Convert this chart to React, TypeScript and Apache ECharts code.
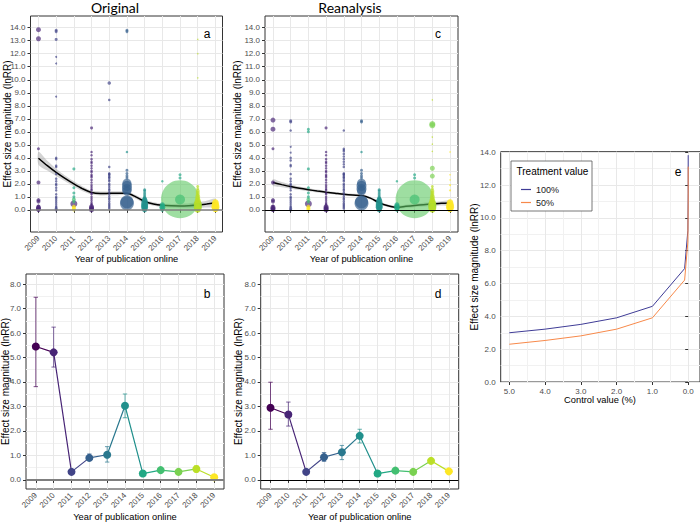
import React, { useEffect, useRef } from 'react';
import * as echarts from 'echarts';

const FONT = "'Liberation Sans', Arial, Helvetica, sans-serif";
const GRID = '#E8E8E8';
const GRID_MINOR = '#F1F1F1';

const years = [2009, 2010, 2011, 2012, 2013, 2014, 2015, 2016, 2017, 2018, 2019];
const effectTicksTop = [0, 1, 2, 3, 4, 5, 6, 7, 8, 9, 10, 11, 12, 13, 14];
const effectTicksBottom = [0, 1, 2, 3, 4, 5, 6, 7, 8];
const effectMinorBottom = [0.5, 1.5, 2.5, 3.5, 4.5, 5.5, 6.5, 7.5];
const controlTicks = [0, 1, 2, 3, 4, 5];
const controlMinor = [0.5, 1.5, 2.5, 3.5, 4.5];
const effectTicksE = [0, 2, 4, 6, 8, 10, 12, 14];
const effectMinorE = [1, 3, 5, 7, 9, 11, 13];

const viridis = ['#440154', '#482576', '#414487', '#35608D', '#2A788E', '#21908C', '#22A884', '#43BF71', '#7AD151', '#BBDF27', '#FDE725', '#5DC863'];

// smoothed trend (loess) with confidence band, panels a and c
const fitYears = [2009, 2009.5, 2010, 2010.5, 2011, 2011.5, 2012, 2012.5, 2013, 2013.5, 2014, 2014.5, 2015, 2015.5, 2016, 2016.5, 2017, 2017.5, 2018, 2018.5, 2019];
const origFit = [3.97, 3.4, 2.88, 2.42, 2.0, 1.62, 1.33, 1.26, 1.27, 1.28, 1.27, 1.0, 0.64, 0.45, 0.35, 0.31, 0.3, 0.32, 0.37, 0.45, 0.54];
const origFitLo = [3.47, 3.02, 2.6, 2.2, 1.8, 1.44, 1.18, 1.11, 1.12, 1.13, 1.12, 0.86, 0.5, 0.31, 0.21, 0.16, 0.13, 0.13, 0.15, 0.19, 0.22];
const origFitHi = [4.47, 3.78, 3.16, 2.64, 2.2, 1.8, 1.48, 1.41, 1.42, 1.43, 1.42, 1.14, 0.78, 0.59, 0.49, 0.46, 0.47, 0.51, 0.59, 0.71, 0.86];
const reanFit = [2.1, 1.94, 1.79, 1.66, 1.55, 1.45, 1.36, 1.28, 1.2, 1.14, 1.1, 0.9, 0.55, 0.32, 0.2, 0.27, 0.34, 0.4, 0.45, 0.5, 0.53];
const reanFitLo = [1.85, 1.74, 1.63, 1.53, 1.43, 1.34, 1.26, 1.18, 1.1, 1.04, 1.0, 0.8, 0.45, 0.22, 0.08, 0.15, 0.21, 0.26, 0.3, 0.33, 0.33];
const reanFitHi = [2.35, 2.14, 1.95, 1.79, 1.67, 1.56, 1.46, 1.38, 1.3, 1.24, 1.2, 1.0, 0.65, 0.42, 0.32, 0.39, 0.47, 0.54, 0.6, 0.67, 0.73];

// individual effect sizes: [year, lnRR, weight (symbol size), colour group]
const sharedPoints: [number, number, number, number][] = [
  [2009, 4.7, 3, 1], [2009, 2.1, 4, 1], [2009, 0.75, 4, 1], [2009, 0.65, 4, 1], [2009, 0.3, 3, 1], [2009, 0.2, 5, 1], [2009, 0.12, 5, 1], [2009, 0.05, 5, 1], [2009, 0.0, 4, 1],
  [2010, 2.2, 2.5, 2], [2010, 2.0, 2.5, 2], [2010, 1.9, 2.5, 2], [2010, 1.7, 2.5, 2], [2010, 1.5, 2.5, 2], [2010, 1.2, 2.5, 2], [2010, 1.0, 2.5, 2], [2010, 0.9, 2.5, 2], [2010, 0.75, 2.5, 2], [2010, 0.6, 2.5, 2], [2010, 0.45, 2.5, 2], [2010, 0.3, 2.5, 2], [2010, 0.2, 2.5, 2], [2010, 0.1, 3, 2], [2010, 0.0, 3, 2],
  [2011, 3.15, 3, 6], [2011, 1.7, 3, 6], [2011, 1.3, 3, 6], [2011, 1.0, 3, 6], [2011, 0.8, 4, 7], [2011, 0.6, 3, 7], [2011, 0.47, 7, 1], [2011, 0.25, 4, 10], [2011, 0.12, 4, 10], [2011, 0.03, 4, 10],
  [2012, 6.3, 3, 1], [2012, 4.45, 2.5, 1], [2012, 4.2, 2.5, 1], [2012, 3.9, 2.5, 1], [2012, 3.7, 2.5, 1], [2012, 3.6, 2.5, 1], [2012, 3.4, 2.5, 1], [2012, 3.2, 2.5, 1], [2012, 3.0, 2.5, 1], [2012, 2.9, 2.5, 1], [2012, 2.7, 2.5, 1], [2012, 2.6, 2.5, 1], [2012, 2.5, 2.5, 1], [2012, 2.3, 2.5, 1], [2012, 2.1, 2.5, 1], [2012, 1.9, 2.5, 1], [2012, 1.75, 2.5, 1], [2012, 1.6, 2.5, 1], [2012, 1.5, 2.5, 1], [2012, 1.3, 2.5, 1], [2012, 1.2, 2.5, 1], [2012, 1.0, 2.5, 1], [2012, 0.85, 2.5, 1], [2012, 0.7, 2.5, 1], [2012, 0.55, 2.5, 1], [2012, 0.45, 2.5, 1], [2012, 0.35, 2.5, 1], [2012, 0.25, 5, 1], [2012, 0.15, 5, 1], [2012, 0.08, 5, 1], [2012, 0.0, 5, 1],
  [2013, 3.3, 2.5, 2], [2013, 2.8, 2.5, 2], [2013, 2.75, 2.5, 2], [2013, 2.7, 2.5, 2], [2013, 2.6, 2.5, 2], [2013, 2.5, 2.5, 2], [2013, 2.45, 2.5, 2], [2013, 2.3, 2.5, 2], [2013, 2.2, 2.5, 2], [2013, 2.0, 2.5, 2], [2013, 1.9, 2.5, 2], [2013, 1.75, 2.5, 2], [2013, 1.6, 2.5, 2], [2013, 1.5, 2.5, 2], [2013, 1.35, 2.5, 2], [2013, 1.2, 2.5, 2], [2013, 1.05, 2.5, 2], [2013, 0.9, 2.5, 2], [2013, 0.8, 2.5, 2], [2013, 0.65, 2.5, 2], [2013, 0.5, 2.5, 2], [2013, 0.4, 2.5, 2], [2013, 0.3, 2.5, 2], [2013, 0.2, 2.5, 2], [2013, 0.1, 2.5, 2],
  [2014, 4.45, 2.5, 5], [2014, 3.05, 3, 3], [2014, 2.8, 3, 3], [2014, 2.6, 3, 3], [2014, 2.45, 3, 3], [2014, 2.05, 9, 3], [2014, 1.85, 10, 3], [2014, 1.6, 10, 3], [2014, 1.45, 9, 3], [2014, 0.62, 13, 3], [2014, 0.5, 14, 3],
  [2015, 1.55, 3, 5], [2015, 1.45, 3, 5], [2015, 1.3, 3, 5], [2015, 1.15, 3, 5], [2015, 1.0, 3, 5], [2015, 0.9, 4, 5], [2015, 0.8, 5, 5], [2015, 0.7, 6, 5], [2015, 0.55, 7, 5], [2015, 0.4, 7, 5], [2015, 0.3, 7, 5], [2015, 0.2, 7, 5], [2015, 0.1, 6, 5], [2015, 0.0, 5, 5],
  [2016, 2.2, 2.5, 6], [2016, 0.4, 5, 6], [2016, 0.3, 5, 6], [2016, 0.2, 6, 6], [2016, 0.1, 5, 6], [2016, 0.0, 4, 6],
  [2017, 2.7, 3, 6], [2017, 2.45, 3, 6], [2017, 0.82, 38, 11], [2017, 0.8, 10, 7],
  [2018, 1.8, 3, 9], [2018, 1.6, 3, 9], [2018, 1.45, 4, 9], [2018, 1.3, 4, 9], [2018, 1.15, 4, 9], [2018, 1.0, 5, 9], [2018, 0.85, 5, 9], [2018, 0.7, 6, 9], [2018, 0.55, 7, 9], [2018, 0.45, 8, 8], [2018, 0.4, 8, 9], [2018, 0.3, 8, 9], [2018, 0.25, 8, 8], [2018, 0.15, 8, 9], [2018, 0.05, 7, 9],
  [2019, 0.6, 6, 10], [2019, 0.5, 7, 10], [2019, 0.4, 7, 10], [2019, 0.3, 8, 10], [2019, 0.2, 8, 10], [2019, 0.1, 7, 10], [2019, 0.05, 6, 10],
];
const origOnlyPoints: [number, number, number, number][] = [
  [2009, 13.85, 5, 1], [2009, 13.15, 5, 1],
  [2010, 13.8, 3, 2], [2010, 13.7, 3, 2], [2010, 13.1, 3, 2], [2010, 11.75, 2, 2], [2010, 11.25, 2, 2], [2010, 8.7, 2, 2], [2010, 4.0, 2.5, 2], [2010, 3.9, 2.5, 2], [2010, 3.4, 2.5, 2], [2010, 3.3, 2.5, 2], [2010, 2.75, 2.5, 2], [2010, 2.4, 2.5, 2],
  [2013, 9.75, 3.5, 2], [2013, 8.45, 2.5, 2],
  [2014, 13.8, 3, 3], [2014, 13.7, 3, 3],
  [2018, 13.1, 1.5, 9], [2018, 12.0, 1.5, 9], [2018, 10.15, 1.5, 9],
];
const reanOnlyPoints: [number, number, number, number][] = [
  [2009, 6.9, 5, 1], [2009, 6.2, 5, 1],
  [2010, 6.85, 3, 2], [2010, 6.75, 3, 2], [2010, 6.1, 2.5, 2], [2010, 4.85, 2, 2], [2010, 4.4, 2, 2], [2010, 4.0, 2.5, 2], [2010, 3.8, 2.5, 2], [2010, 3.45, 2.5, 2], [2010, 3.35, 2.5, 2], [2010, 2.75, 2.5, 2], [2010, 2.4, 2.5, 2],
  [2011, 6.2, 3, 6], [2011, 6.0, 3, 6],
  [2013, 6.1, 2.5, 2], [2013, 4.7, 2.5, 2], [2013, 4.6, 2.5, 2], [2013, 4.5, 2.5, 2], [2013, 4.3, 2.5, 2], [2013, 4.1, 2.5, 2], [2013, 3.9, 2.5, 2], [2013, 3.7, 2.5, 2], [2013, 3.5, 2.5, 2],
  [2014, 6.85, 3, 3], [2014, 6.75, 3, 3],
  [2018, 8.45, 1.5, 9], [2018, 6.6, 6, 8], [2018, 6.5, 6, 8], [2018, 5.6, 1.5, 9], [2018, 5.05, 1.5, 9], [2018, 4.5, 1.5, 9], [2018, 3.2, 5, 8], [2018, 2.6, 5, 8],
  [2019, 4.45, 1.5, 10], [2019, 2.7, 1.5, 10], [2019, 2.3, 1.5, 10], [2019, 1.9, 2, 10], [2019, 1.5, 2, 10],
];

// yearly means with confidence intervals, panels b and d
const origMean = [5.45, 5.21, 0.33, 0.9, 1.03, 3.03, 0.26, 0.4, 0.33, 0.45, 0.11];
const origLo = [3.81, 4.61, null, 0.79, 0.73, 2.54, null, null, null, 0.33, null];
const origHi = [7.46, 6.24, null, 1.06, 1.36, 3.51, null, null, null, 0.58, null];
const reanMean = [2.95, 2.67, 0.33, 0.93, 1.13, 1.8, 0.26, 0.38, 0.33, 0.78, 0.35];
const reanLo = [2.07, 2.2, null, 0.76, 0.83, 1.51, null, null, null, null, null];
const reanHi = [3.99, 3.18, null, 1.12, 1.41, 2.07, null, null, null, null, null];

// panel e: effect size against control value
const controlValue = [5, 4, 3, 2, 1, 0.1, 0.01, 0.001, 0.0001];
const treat100 = [3.0, 3.22, 3.51, 3.91, 4.61, 6.91, 9.21, 11.51, 13.82];
const treat50 = [2.3, 2.53, 2.81, 3.22, 3.91, 6.21, 8.52, 10.82, 13.12];

function rgba(hex: string, a: number) {
  const n = parseInt(hex.slice(1), 16);
  return `rgba(${(n >> 16) & 255},${(n >> 8) & 255},${n & 255},${a})`;
}

const tickStyle = { show: true, length: 3, lineStyle: { color: '#333333', width: 1 } };
const labelStyle = { fontSize: 8, color: '#4D4D4D', fontFamily: FONT };

function yearXAxis(gridIndex: number, min: number, max: number) {
  return {
    type: 'value', gridIndex, min, max,
    axisLine: { show: false },
    axisTick: { ...tickStyle, customValues: years },
    axisLabel: { ...labelStyle, customValues: years, rotate: 45, margin: 5, formatter: (v: number) => String(Math.round(v)) },
    splitLine: { show: true, lineStyle: { color: GRID, width: 1 } },
  };
}
function valueAxis(gridIndex: number, min: number, max: number, ticks: number[], inverse = false) {
  return {
    type: 'value', gridIndex, min, max, inverse,
    axisLine: { show: false },
    axisTick: { ...tickStyle, customValues: ticks },
    axisLabel: { ...labelStyle, customValues: ticks, margin: 5, formatter: (v: number) => v.toFixed(1) },
    splitLine: { show: true, lineStyle: { color: GRID, width: 1 } },
  };
}
function minorAxis(gridIndex: number, min: number, max: number, ticks: number[], inverse = false) {
  return {
    type: 'value', gridIndex, min, max, inverse,
    axisLine: { show: false },
    axisTick: { show: false, customValues: ticks },
    axisLabel: { show: false },
    splitLine: { show: true, lineStyle: { color: GRID_MINOR, width: 1 } },
  };
}

function sortPoints(pts: [number, number, number, number][]) {
  return pts.slice().sort((p, q) => q[2] - p[2]);
}

function App() {
  const ref = useRef<HTMLDivElement>(null);
  useEffect(() => {
    if (!ref.current) return;
    const chart = echarts.init(ref.current, undefined, { renderer: 'svg' });

    const gridBase = { show: true, borderColor: '#333333', borderWidth: 1, backgroundColor: '#ffffff', containLabel: false };
    const grid = [
      { ...gridBase, left: 30.5, top: 16, width: 192, height: 216 },
      { ...gridBase, left: 265, top: 16, width: 193, height: 216 },
      { ...gridBase, left: 26, top: 274, width: 198, height: 215 },
      { ...gridBase, left: 260.7, top: 274, width: 198, height: 215 },
      { ...gridBase, left: 500.7, top: 151.7, width: 202, height: 230.3 },
    ];
    const xAxis = [
      yearXAxis(0, 2008.55, 2019.4),
      yearXAxis(1, 2008.55, 2019.45),
      yearXAxis(2, 2008.45, 2019.55),
      yearXAxis(3, 2008.45, 2019.55),
      valueAxis(4, -0.33, 5.24, controlTicks, true),
      minorAxis(4, -0.33, 5.24, controlMinor, true),
    ];
    const yAxis = [
      valueAxis(0, -1.7, 14.9, effectTicksTop),
      valueAxis(1, -1.7, 14.9, effectTicksTop),
      valueAxis(2, -0.37, 8.41, effectTicksBottom),
      valueAxis(3, -0.37, 8.41, effectTicksBottom),
      valueAxis(4, 0, 14.03, effectTicksE),
      minorAxis(2, -0.37, 8.41, effectMinorBottom),
      minorAxis(3, -0.37, 8.41, effectMinorBottom),
      minorAxis(4, 0, 14.03, effectMinorE),
    ];

    const series: any[] = [];
    const visualMap: any[] = [];

    const zeroLine = (xi: number, yi: number, color: string, width: number, z: number) => ({
      type: 'line', xAxisIndex: xi, yAxisIndex: yi, data: [], z, silent: true,
      markLine: { silent: true, symbol: ['none', 'none'], label: { show: false }, lineStyle: { color, width, type: 'solid' }, data: [{ yAxis: 0 }] },
    });

    const addTop = (idx: number, fit: number[], lo: number[], hi: number[], pts: [number, number, number, number][], zeroColor: string, zeroWidth: number) => {
      series.push({
        type: 'custom', xAxisIndex: idx, yAxisIndex: idx, z: 1, silent: true,
        data: fitYears.map((x, i) => [x, lo[i], hi[i]]),
        encode: { x: 0, y: [1, 2] },
        renderItem: (params: any, api: any) => {
          if (params.dataIndex !== 0) return null;
          const upper = fitYears.map((x, i) => api.coord([x, hi[i]]));
          const lower = fitYears.map((x, i) => api.coord([x, lo[i]])).reverse();
          return { type: 'polygon', shape: { points: [...upper, ...lower], smooth: 0.25 }, style: { fill: 'rgba(150,150,150,0.42)' } };
        },
      });
      series.push(zeroLine(idx, idx, zeroColor, zeroWidth, 1));
      series.push({ type: 'line', xAxisIndex: idx, yAxisIndex: idx, data: fitYears.map((x, i) => [x, fit[i]]), symbol: 'none', smooth: 0.3, lineStyle: { color: '#000000', width: 1.5 }, z: 2, silent: true });
      series.push({
        type: 'scatter', xAxisIndex: idx, yAxisIndex: idx, data: sortPoints(pts), z: 3, silent: true,
        symbolSize: (d: number[]) => d[2],
        itemStyle: { color: (p: any) => rgba(viridis[p.data[3]], p.data[2] > 20 ? 0.75 : 0.85) },
      });
    };
    addTop(0, origFit, origFitLo, origFitHi, [...sharedPoints, ...origOnlyPoints], '#7F7F7F', 1.5);
    addTop(1, reanFit, reanFitLo, reanFitHi, [...sharedPoints, ...reanOnlyPoints], '#000000', 1);

    const addBottom = (idx: number, mean: number[], lo: (number | null)[], hi: (number | null)[], zeroColor: string, zeroWidth: number) => {
      series.push(zeroLine(idx, idx, zeroColor, zeroWidth, 1));
      series.push({
        type: 'custom', xAxisIndex: idx, yAxisIndex: idx, z: 2, silent: true, clip: false,
        data: years.map((y, i) => [y, lo[i], hi[i], i]).filter((d) => d[1] != null),
        encode: { x: 0, y: [1, 2] },
        renderItem: (params: any, api: any) => {
          const x = api.value(0);
          const p1 = api.coord([x, api.value(1)]);
          const p2 = api.coord([x, api.value(2)]);
          const c = viridis[api.value(3)];
          const w = 2.2;
          const style = { stroke: rgba(c, 0.7), lineWidth: 1 };
          return {
            type: 'group', children: [
              { type: 'line', shape: { x1: p1[0], y1: p1[1], x2: p2[0], y2: p2[1] }, style },
              { type: 'line', shape: { x1: p1[0] - w, y1: p1[1], x2: p1[0] + w, y2: p1[1] }, style },
              { type: 'line', shape: { x1: p2[0] - w, y1: p2[1], x2: p2[0] + w, y2: p2[1] }, style },
            ],
          };
        },
      });
      series.push({
        type: 'line', xAxisIndex: idx, yAxisIndex: idx, z: 3, silent: true,
        data: years.map((y, i) => [y, mean[i]]), symbol: 'circle', symbolSize: 8, lineStyle: { width: 1.2 },
      });
      visualMap.push({
        type: 'piecewise', show: false, seriesIndex: series.length - 1, dimension: 0,
        pieces: years.map((y, i) => ({ gte: y, lt: y + 1, color: viridis[i] })),
      });
    };
    addBottom(2, origMean, origLo, origHi, '#7F7F7F', 2);
    addBottom(3, reanMean, reanLo, reanHi, '#000000', 1);

    series.push({ type: 'line', name: '100%', xAxisIndex: 4, yAxisIndex: 4, data: controlValue.map((x, i) => [x, treat100[i]]), symbol: 'none', lineStyle: { color: '#3F3C96', width: 1 }, itemStyle: { color: '#3F3C96' }, z: 3, silent: true });
    series.push({ type: 'line', name: '50%', xAxisIndex: 4, yAxisIndex: 4, data: controlValue.map((x, i) => [x, treat50[i]]), symbol: 'none', lineStyle: { color: '#F7894A', width: 1 }, itemStyle: { color: '#F7894A' }, z: 3, silent: true });

    const txt = (text: string, x: number, y: number, size: number, opts: any = {}) => ({
      type: 'text', x, y, rotation: opts.rotation || 0, z: 30, silent: true,
      style: { text, fontSize: size, fontFamily: opts.font || FONT, fill: opts.color || '#000000', align: opts.align || 'center', verticalAlign: 'middle' },
    });
    const yTitle = 'Effect size magnitude (lnRR)';
    const xTitle = 'Year of publication online';
    const rot = { rotation: Math.PI / 2 };
    const graphicEls = [
      txt('Original', 115, 7, 14, { font: "Lato, 'Open Sans', sans-serif" }),
      txt('Reanalysis', 350, 7, 14, { font: "Lato, 'Open Sans', sans-serif" }),
      txt('a', 207, 34, 12), txt('c', 438, 34, 12), txt('b', 207, 294, 12), txt('d', 438, 294, 12), txt('e', 678, 172, 12),
      txt(yTitle, 7, 124, 10, rot),
      txt(yTitle, 237, 124, 10, rot),
      txt(yTitle, 5, 381.5, 10, rot),
      txt(yTitle, 238, 381.5, 10, rot),
      txt(yTitle, 474, 267, 10, rot),
      txt(xTitle, 126.5, 259, 9.3), txt(xTitle, 361.5, 259, 9.3),
      txt(xTitle, 125, 517, 9.3), txt(xTitle, 359.7, 517, 9.3),
      txt('Control value (%)', 600, 400, 9.3),
      { type: 'rect', z: 15, silent: true, shape: { x: 511, y: 161, width: 81, height: 50 }, style: { fill: '#ffffff', stroke: '#555555', lineWidth: 0.8 } },
      txt('Treatment value', 516.5, 171, 10, { align: 'left' }),
    ];

    chart.setOption({
      animation: false,
      backgroundColor: '#ffffff',
      textStyle: { fontFamily: FONT },
      grid, xAxis, yAxis, series, visualMap,
      legend: {
        show: true, data: ['100%', '50%'], orient: 'vertical', left: 516, top: 180, z: 20,
        icon: 'rect', itemWidth: 10, itemHeight: 1.2, itemGap: 4, selectedMode: false,
        textStyle: { fontSize: 9, color: '#1A1A1A', fontFamily: FONT },
      },
      graphic: { elements: graphicEls },
    });
    return () => chart.dispose();
  }, []);
  return <div ref={ref} style={{ position: 'absolute', left: 0, top: 0, width: 700, height: 522 }} />;
}

export default App;
